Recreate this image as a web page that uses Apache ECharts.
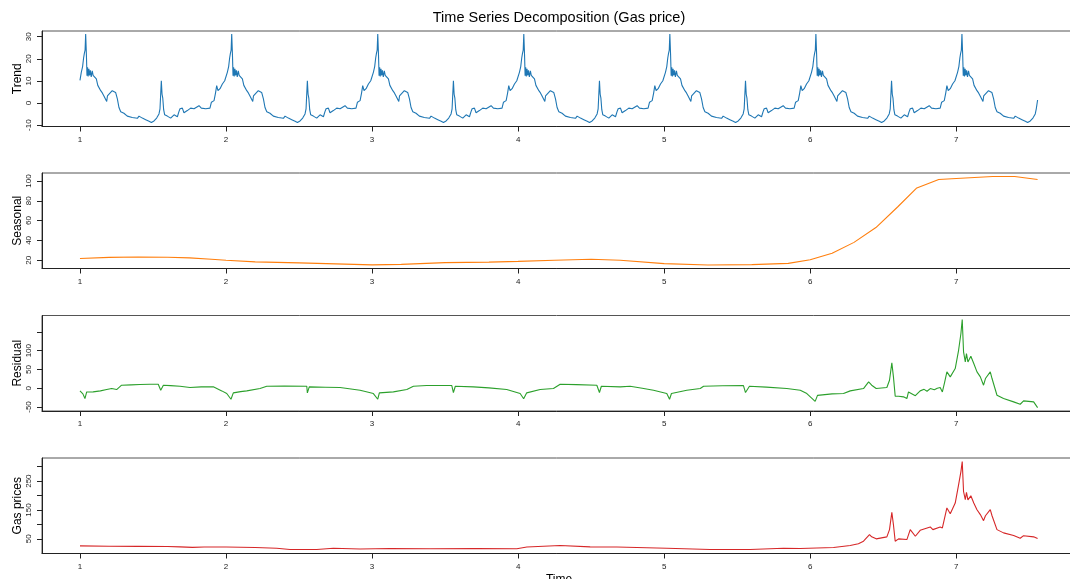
<!DOCTYPE html>
<html><head><meta charset="utf-8">
<script src="https://cdn.jsdelivr.net/npm/echarts@6/dist/echarts.min.js"></script>
<style>html,body{margin:0;padding:0;background:#fff}#c{width:1070px;height:579px}</style>
</head><body><div id="c"></div>
<script>
// ---------- data ----------
const xTicks = [1, 2, 3, 4, 5, 6, 7];
const trendTicks = [-10, 0, 10, 20, 30];
const seasonalTicks = [20, 40, 60, 80, 100];
const residualTicks = [-50, 0, 50, 100, 150];
const residualLabels = [-50, 0, 50, 100];
const gasTicks = [50, 100, 150, 200, 250, 300];
const gasLabels = [50, 150, 250];

// time offsets inside each year for the "Trend" panel (shared by every year)
const trendPhase = [0.000,0.009,0.018,0.025,0.030,0.035,0.039,0.044,0.048,0.052,0.056,0.061,0.066,0.071,0.077,0.084,0.090,0.100,0.112,0.122,0.130,0.142,0.153,0.164,0.172,0.183,0.188,0.200,0.221,0.233,0.244,0.256,0.267,0.279,0.301,0.324,0.358,0.393,0.404,0.427,0.450,0.473,0.489,0.507,0.525,0.541,0.548,0.557,0.562,0.567,0.573,0.580,0.598,0.621,0.644,0.667,0.677,0.685,0.701,0.712,0.735,0.758,0.781,0.815,0.831,0.861,0.890,0.900,0.918,0.928,0.936,0.945,0.959,0.975,0.991];
const trendYears = [1, 2, 3, 4, 5, 6, 7];
const trendY1 = [10.3,13.9,16.5,20.5,22.5,24,31.2,22,12.4,16.2,12,15.5,12.5,14.8,11.8,14.6,12.5,11.7,10.9,8,8.8,5.6,4.6,3.2,3.8,0.7,3.2,3.8,5.6,6.4,4.8,1.9,-2,-3.9,-4.6,-5.9,-6.5,-6.9,-5.9,-6.8,-7.5,-8.2,-8.8,-8.1,-6.8,-4.9,-2.6,10.1,4,2.2,-3,-5.3,-5.9,-6.8,-5.3,-6.2,-4,-2.6,-2.3,-4.4,-3.4,-2.3,-2.6,-1.2,-2.3,-2.6,-2.3,0.4,1.1,4.5,7.9,5.6,6.5,8.6,10.1];
const trendY2 = [10.3,13.9,16.5,20.5,22.5,24,31.2,22,12.4,16.2,12,15.5,12.5,14.8,11.8,14.6,12.5,11.7,10.9,8,8.8,5.6,4.6,3.2,3.8,0.7,3.2,3.8,5.6,6.4,4.8,1.9,-2,-3.9,-4.6,-5.9,-6.5,-6.9,-5.9,-6.8,-7.5,-8.2,-8.8,-8.1,-6.8,-4.9,-2.6,10.1,4,2.2,-3,-5.3,-5.9,-6.8,-5.3,-6.2,-4,-2.6,-2.3,-4.4,-3.4,-2.3,-2.6,-1.2,-2.3,-2.6,-2.3,0.4,1.1,4.5,7.9,5.6,6.5,8.6,10.1];
const trendY3 = [10.3,13.9,16.5,20.5,22.5,24,31.2,22,12.4,16.2,12,15.5,12.5,14.8,11.8,14.6,12.5,11.7,10.9,8,8.8,5.6,4.6,3.2,3.8,0.7,3.2,3.8,5.6,6.4,4.8,1.9,-2,-3.9,-4.6,-5.9,-6.5,-6.9,-5.9,-6.8,-7.5,-8.2,-8.8,-8.1,-6.8,-4.9,-2.6,10.1,4,2.2,-3,-5.3,-5.9,-6.8,-5.3,-6.2,-4,-2.6,-2.3,-4.4,-3.4,-2.3,-2.6,-1.2,-2.3,-2.6,-2.3,0.4,1.1,4.5,7.9,5.6,6.5,8.6,10.1];
const trendY4 = [10.3,13.9,16.5,20.5,22.5,24,31.2,22,12.4,16.2,12,15.5,12.5,14.8,11.8,14.6,12.5,11.7,10.9,8,8.8,5.6,4.6,3.2,3.8,0.7,3.2,3.8,5.6,6.4,4.8,1.9,-2,-3.9,-4.6,-5.9,-6.5,-6.9,-5.9,-6.8,-7.5,-8.2,-8.8,-8.1,-6.8,-4.9,-2.6,10.1,4,2.2,-3,-5.3,-5.9,-6.8,-5.3,-6.2,-4,-2.6,-2.3,-4.4,-3.4,-2.3,-2.6,-1.2,-2.3,-2.6,-2.3,0.4,1.1,4.5,7.9,5.6,6.5,8.6,10.1];
const trendY5 = [10.3,13.9,16.5,20.5,22.5,24,31.2,22,12.4,16.2,12,15.5,12.5,14.8,11.8,14.6,12.5,11.7,10.9,8,8.8,5.6,4.6,3.2,3.8,0.7,3.2,3.8,5.6,6.4,4.8,1.9,-2,-3.9,-4.6,-5.9,-6.5,-6.9,-5.9,-6.8,-7.5,-8.2,-8.8,-8.1,-6.8,-4.9,-2.6,10.1,4,2.2,-3,-5.3,-5.9,-6.8,-5.3,-6.2,-4,-2.6,-2.3,-4.4,-3.4,-2.3,-2.6,-1.2,-2.3,-2.6,-2.3,0.4,1.1,4.5,7.9,5.6,6.5,8.6,10.1];
const trendY6 = [10.3,13.9,16.5,20.5,22.5,24,31.2,22,12.4,16.2,12,15.5,12.5,14.8,11.8,14.6,12.5,11.7,10.9,8,8.8,5.6,4.6,3.2,3.8,0.7,3.2,3.8,5.6,6.4,4.8,1.9,-2,-3.9,-4.6,-5.9,-6.5,-6.9,-5.9,-6.8,-7.5,-8.2,-8.8,-8.1,-6.8,-4.9,-2.6,10.1,4,2.2,-3,-5.3,-5.9,-6.8,-5.3,-6.2,-4,-2.6,-2.3,-4.4,-3.4,-2.3,-2.6,-1.2,-2.3,-2.6,-2.3,0.4,1.1,4.5,7.9,5.6,6.5,8.6,10.1];
const trendY7 = [10.3,13.9,16.5,20.5,22.5,24,31.2,22,12.4,16.2,12,15.5,12.5,14.8,11.8,14.6,12.5,11.7,10.9,8,8.8,5.6,4.6,3.2,3.8,0.7,3.2,3.8,5.6,6.4,4.8,1.9,-2,-3.9,-4.6,-5.9,-6.5,-6.9,-5.9,-6.8,-7.5,-8.2,-8.8,-8.1,-6.8,-4.9,-2.6,1.4];

const seasonalData = [[1.0,21.7],[1.2,22.8],[1.4,23.2],[1.6,23.0],[1.75,22.3],[1.9,21],[2.0,20],[2.2,18.3],[2.5,17.3],[2.75,16.3],[3.0,15.3],[3.2,15.8],[3.5,17.5],[3.8,18],[4.0,18.8],[4.25,20],[4.5,21],[4.7,20],[5.0,16.5],[5.3,15.2],[5.6,15.5],[5.85,16.8],[6.0,20.5],[6.15,27],[6.3,38],[6.45,53],[6.6,74],[6.73,93],[6.88,101.5],[7.0,102.5],[7.25,104.5],[7.4,104.5],[7.557,101.5]];

const residualData = [[1.000,-7],[1.02,-15],[1.034,-27.6],[1.046,-10],[1.09,-9.8],[1.14,-7],[1.183,-3.6],[1.217,-0.9],[1.251,-3.6],[1.285,8],[1.35,9],[1.411,9.8],[1.48,10.5],[1.536,10.7],[1.553,-5.3],[1.571,8],[1.62,7],[1.685,5.3],[1.753,1.8],[1.83,3.6],[1.913,3.6],[1.971,-7.1],[2.005,-14.2],[2.034,-29.3],[2.05,-12.4],[2.1,-9],[2.142,-7.1],[2.233,-0.9],[2.279,5.3],[2.4,6],[2.553,5.3],[2.557,-12.4],[2.57,3.6],[2.68,2.7],[2.781,1.8],[2.918,-5.3],[3.009,-14.2],[3.039,-29.3],[3.05,-12.4],[3.146,-9.8],[3.238,-3.6],[3.283,5.3],[3.374,7.1],[3.546,7.1],[3.557,-11.5],[3.57,5.3],[3.694,3.6],[3.8,1],[3.922,-3.6],[4.014,-14.2],[4.038,-28],[4.059,-12.4],[4.151,-3.6],[4.242,-0.9],[4.288,10.7],[4.4,9.5],[4.539,8],[4.557,-11.5],[4.57,5.3],[4.699,3.6],[4.767,5.3],[4.85,0],[4.927,-5.3],[5.018,-14.2],[5.037,-29.3],[5.05,-14.2],[5.155,-5.3],[5.247,-0.9],[5.27,5.3],[5.4,6.5],[5.543,7.1],[5.557,-11.5],[5.584,5.3],[5.7,3],[5.84,-0.9],[5.932,-5.3],[5.977,-14.2],[6.034,-35],[6.05,-19],[6.15,-15],[6.228,-14.2],[6.274,-7.1],[6.365,-0.9],[6.4,17],[6.421,8],[6.452,-0.9],[6.525,2],[6.543,21.3],[6.559,67.5],[6.57,30.2],[6.582,-21],[6.605,-21.3],[6.639,-23],[6.662,-27.6],[6.673,-10],[6.685,-5.3],[6.72,-20],[6.753,-7.1],[6.76,-12],[6.78,-3],[6.8,-8],[6.822,-0.9],[6.85,-4],[6.87,0],[6.89,1.8],[6.905,-9.8],[6.92,15],[6.936,43.6],[6.959,30.2],[6.993,52.4],[7.016,101],[7.032,145.8],[7.041,183],[7.05,96.9],[7.062,70.2],[7.07,92.4],[7.08,70],[7.1,85.3],[7.12,65.8],[7.142,43.6],[7.165,30.2],[7.187,8],[7.2,25.8],[7.233,43.6],[7.245,25.8],[7.279,-18.7],[7.324,-27.6],[7.393,-36.4],[7.438,-42.7],[7.461,-33.8],[7.53,-36.4],[7.557,-51.6]];

const gasData = [[1.0,25.8],[1.2,24.5],[1.4,24],[1.6,23.5],[1.685,22.4],[1.77,20.5],[1.85,22],[2.0,22],[2.2,20],[2.347,17.6],[2.438,13.1],[2.621,13.1],[2.735,17.6],[2.918,15],[3.123,16.5],[3.4,16],[3.717,16.5],[3.991,16],[4.06,22],[4.288,26.9],[4.493,22.1],[4.676,22],[5.018,17.6],[5.315,13.1],[5.589,13.1],[5.817,17.6],[5.932,16.6],[6.16,20],[6.274,26.9],[6.33,33],[6.365,41.8],[6.406,64.8],[6.421,57],[6.452,50],[6.525,57],[6.543,82],[6.559,141.7],[6.57,99],[6.582,41.8],[6.605,50],[6.662,47.6],[6.685,82],[6.72,59],[6.753,79.7],[6.822,91.4],[6.84,82],[6.89,91.4],[6.905,88],[6.936,156.9],[6.959,137],[6.993,174],[7.016,237],[7.032,283],[7.041,317.6],[7.05,214],[7.062,185.5],[7.07,210.7],[7.08,185],[7.1,199],[7.12,174],[7.142,151],[7.165,134],[7.187,113],[7.2,130],[7.233,151],[7.245,130],[7.279,82],[7.324,70.7],[7.393,61.4],[7.438,52],[7.461,61],[7.53,57],[7.557,51]];

// ---------- build ----------
const trendYearValues = [trendY1, trendY2, trendY3, trendY4, trendY5, trendY6, trendY7];
const trendData = [];
trendYears.forEach((yr, k) => {
  trendYearValues[k].forEach((v, i) => trendData.push([yr + trendPhase[i], v]));
});

const FONT = 'Liberation Sans, Arial, sans-serif';
const panels = [
  {name: 'Trend', data: trendData, color: '#1f77b4', min: -10.6, max: 32.6, ticks: trendTicks, labels: trendTicks},
  {name: 'Seasonal', data: seasonalData, color: '#ff7f0e', min: 11.6, max: 108.1, ticks: seasonalTicks, labels: seasonalTicks},
  {name: 'Residual', data: residualData, color: '#2ca02c', min: -60.7, max: 193.7, ticks: residualTicks, labels: residualLabels},
  {name: 'Gas prices', data: gasData, color: '#d62728', min: -0.7, max: 330, ticks: gasTicks, labels: gasLabels}
];
const tops = [31, 173, 315.5, 458];
const H = 95.5;

const option = {
  animation: false,
  backgroundColor: '#fff',
  graphic: [{
    type: 'text', x: 559, y: 18,
    style: {text: 'Time Series Decomposition (Gas price)', fontSize: 14.5, fontFamily: FONT, fill: '#000', align: 'center', verticalAlign: 'middle'}
  }],
  grid: panels.map((p, i) => ({left: 42, top: tops[i], height: H, width: 1034, outerBoundsMode: 'none', containLabel: false, show: true, borderColor: '#555', borderWidth: 1})),
  xAxis: panels.map((p, i) => ({
    type: 'value', gridIndex: i, min: 0.74, max: 7.82,
    name: i === 3 ? 'Time' : '', nameLocation: 'middle', nameGap: 20,
    nameTextStyle: {fontSize: 12, color: '#000', fontFamily: FONT},
    axisLine: {show: true, onZero: false, lineStyle: {color: '#222', width: 1}},
    axisTick: {show: true, length: 5, customValues: xTicks, lineStyle: {color: '#222'}},
    axisLabel: {customValues: xTicks, fontSize: 8, margin: 9, color: '#222', fontFamily: FONT},
    splitLine: {show: false}
  })),
  yAxis: panels.map((p, i) => ({
    type: 'value', gridIndex: i, min: p.min, max: p.max,
    name: p.name, nameLocation: 'middle', nameGap: 18, nameMoveOverlap: false,
    nameTextStyle: {fontSize: 12, color: '#000', fontFamily: FONT},
    axisLine: {show: true, onZero: false, lineStyle: {color: '#222', width: 1}},
    axisTick: {show: true, length: 5, customValues: p.ticks, lineStyle: {color: '#222'}},
    axisLabel: {customValues: p.labels, rotate: 90, fontSize: 8, margin: 9, color: '#222', fontFamily: FONT},
    splitLine: {show: false}
  })),
  series: panels.map((p, i) => ({
    type: 'line', name: p.name, xAxisIndex: i, yAxisIndex: i, data: p.data,
    showSymbol: false, symbol: 'none', silent: true,
    lineStyle: {width: 1.1, color: p.color}, itemStyle: {color: p.color}
  }))
};
const chart = echarts.init(document.getElementById('c'), null, {renderer: 'canvas'});
chart.setOption(option);
</script></body></html>
